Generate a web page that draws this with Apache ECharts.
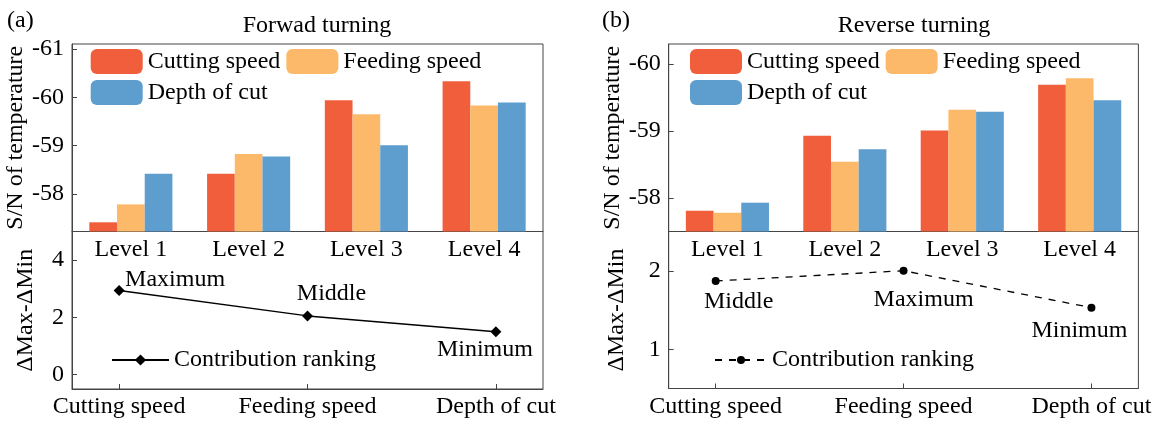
<!DOCTYPE html>
<html>
<head>
<meta charset="utf-8">
<script src="https://cdn.jsdelivr.net/npm/echarts@6/dist/echarts.min.js"></script>
<style>html,body{margin:0;padding:0;background:#fff;}#c{width:1158px;height:425px;}</style>
</head>
<body>
<div id="c"></div>
<script>
// ---- data ----
const levels = ['Level 1', 'Level 2', 'Level 3', 'Level 4'];
const factors = ['Cutting speed', 'Feeding speed', 'Depth of cut'];
const fwdCutting = [-57.42, -58.42, -59.94, -60.33];
const fwdFeeding = [-57.79, -58.83, -59.65, -59.83];
const fwdDepth   = [-58.42, -58.78, -59.01, -59.89];
const revCutting = [-57.81, -58.93, -59.01, -59.69];
const revFeeding = [-57.78, -58.54, -59.32, -59.79];
const revDepth   = [-57.93, -58.73, -59.29, -59.46];
const fwdRange = [2.94, 2.05, 1.50];
const revRange = [1.87, 2.00, 1.53];
const fwdRank = ['Maximum', 'Middle', 'Minimum'];
const revRank = ['Middle', 'Maximum', 'Minimum'];
const fwdTicks = [-61, -60, -59, -58];
const revTicks = [-60, -59, -58];
const fwdRangeTicks = [0, 2, 4];
const revRangeTicks = [1, 2];
const factorTicks = [0, 1, 2];
const legendLine = 'Contribution ranking';

// ---- styles ----
const FONT = "'Liberation Serif', 'Times New Roman', serif";
const FS = 24;
const AX = '#454545';
const colors = ['#F05E3C', '#FDB96A', '#5D9ECE'];

const chart = echarts.init(document.getElementById('c'), null, {renderer: 'canvas'});

function grid(left, top, width, height) {
  return {left, top, width, height, show: true, borderColor: AX, borderWidth: 1,
          backgroundColor: 'transparent', containLabel: false, outerBoundsMode: 'none'};
}
const axisLine = {show: true, onZero: false, lineStyle: {color: AX, width: 1}};
const labelStyle = {color: '#000', fontSize: FS, fontFamily: FONT};

function barY(gi, min, max, ticks, gap) {
  return {type: 'value', gridIndex: gi, inverse: true, min, max, startValue: max,
    name: 'S/N of temperature', nameLocation: 'middle', nameRotate: 90, nameGap: gap,
    nameTextStyle: labelStyle, axisLine, splitLine: {show: false},
    axisTick: {show: true, inside: true, length: 5, lineStyle: {color: AX}, customValues: ticks},
    axisLabel: Object.assign({margin: 8, customValues: ticks}, labelStyle)};
}
function barX(gi) {
  return {type: 'category', gridIndex: gi, data: levels, axisLine,
    axisTick: {show: false}, axisLabel: Object.assign({margin: 6}, labelStyle)};
}
function lineY(gi, min, max, ticks, gap) {
  return {type: 'value', gridIndex: gi, min, max,
    name: 'ΔMax-ΔMin', nameLocation: 'middle', nameRotate: 90, nameGap: gap,
    nameTextStyle: labelStyle, axisLine, splitLine: {show: false},
    axisTick: {show: true, inside: true, length: 5, lineStyle: {color: AX}, customValues: ticks},
    axisLabel: Object.assign({margin: 8, customValues: ticks}, labelStyle)};
}
function lineX(gi) {
  return {type: 'value', gridIndex: gi, min: -0.25, max: 2.25, axisLine, splitLine: {show: false},
    axisTick: {show: true, inside: true, length: 5, lineStyle: {color: AX}, customValues: factorTicks},
    axisLabel: Object.assign({margin: 6, customValues: factorTicks,
      formatter: v => factors[Math.round(v)]}, labelStyle)};
}
function bars(name, data, ci, ai) {
  return {type: 'bar', name, data, xAxisIndex: ai, yAxisIndex: ai, barWidth: 27.7, barGap: '0%',
    clip: true, itemStyle: {color: colors[ci]}};
}
const fwdOffsets = [[56, -11], [24, -22], [-11, 18]];
const revOffsets = [[23, 21], [20, 29], [-12, 23]];
function rankLine(name, values, ranks, offsets, ai, symbol, size, dash) {
  return {type: 'line', name, xAxisIndex: ai, yAxisIndex: ai, symbol, symbolSize: size,
    color: '#000', itemStyle: {color: '#000'},
    lineStyle: {color: '#000', width: 1.3, type: dash},
    data: values.map((v, i) => ({value: [i, v], label: {offset: offsets[i]}})),
    label: {show: true, position: 'inside', color: '#000', fontSize: FS, fontFamily: FONT,
      formatter: p => ranks[p.dataIndex]}};
}

const titleStyle = {fontSize: FS, fontWeight: 'normal', color: '#000', fontFamily: FONT};
const option = {
  animation: false,
  backgroundColor: '#fff',
  textStyle: {fontFamily: FONT},
  title: [
    {text: '(a)', left: 7, top: 9, padding: 0, textStyle: titleStyle},
    {text: 'Forwad turning', left: 317, top: 14, padding: 0, textAlign: 'center', textStyle: titleStyle},
    {text: '(b)', left: 602, top: 9, padding: 0, textStyle: titleStyle},
    {text: 'Reverse turning', left: 914, top: 14, padding: 0, textAlign: 'center', textStyle: titleStyle}
  ],
  legend: [
    {left: 90.7, top: 49, width: 400, padding: 0, itemWidth: 52, itemHeight: 25, itemGap: 6,
     data: factors, textStyle: labelStyle, selectedMode: false},
    {left: 690, top: 49, width: 400, padding: 0, itemWidth: 52, itemHeight: 25, itemGap: 6,
     data: factors, textStyle: labelStyle, selectedMode: false},
    {left: 111, top: 348, padding: 0, itemWidth: 57, itemHeight: 14, data: [legendLine],
     textStyle: labelStyle, selectedMode: false},
    {left: 714, top: 348, padding: 0, itemWidth: 52, itemHeight: 10, itemGap: 10, data: [legendLine + '\u00a0'],
     textStyle: labelStyle, selectedMode: false}
  ],
  grid: [grid(72, 44, 471, 187.5), grid(72, 231.5, 471, 157.5),
         grid(668.7, 44, 469.7, 187.5), grid(668.7, 231.5, 469.7, 157)],
  xAxis: [barX(0), lineX(1), barX(2), lineX(3)],
  yAxis: [barY(0, -61.1, -57.23, fwdTicks, 34), lineY(1, -0.5, 5, fwdRangeTicks, 34),
          barY(2, -60.3, -57.5, revTicks, 31), lineY(3, 0.5, 2.5, revRangeTicks, 40)],
  series: [
    bars(factors[0], fwdCutting, 0, 0), bars(factors[1], fwdFeeding, 1, 0), bars(factors[2], fwdDepth, 2, 0),
    bars(factors[0], revCutting, 0, 2), bars(factors[1], revFeeding, 1, 2), bars(factors[2], revDepth, 2, 2),
    rankLine(legendLine, fwdRange, fwdRank, fwdOffsets, 1, 'diamond', 11, 'solid'),
    rankLine(legendLine + '\u00a0', revRange, revRank, revOffsets, 3, 'circle', 8, [7, 7])
  ]
};
chart.setOption(option);
</script>
</body>
</html>
